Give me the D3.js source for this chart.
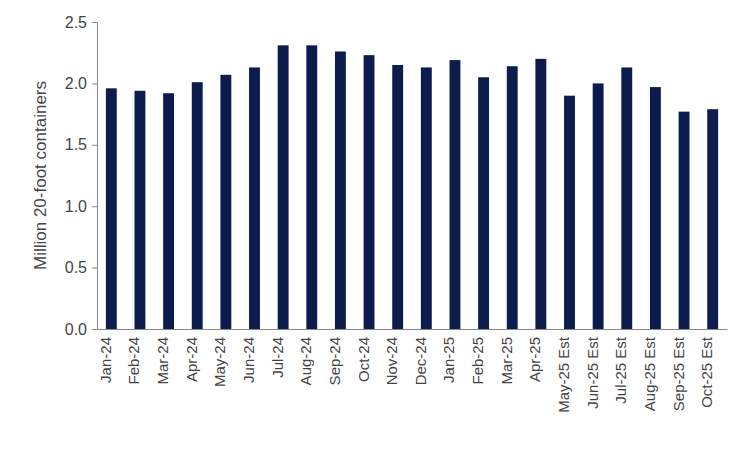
<!DOCTYPE html>
<html><head><meta charset="utf-8">
<script src="https://cdn.jsdelivr.net/npm/d3@7"></script>
<style>body{margin:0;background:#fff}text{font-family:"Liberation Sans",Arial,sans-serif}</style>
</head><body><svg id="c" width="750" height="450"></svg>
<script>
const categories=["Jan-24","Feb-24","Mar-24","Apr-24","May-24","Jun-24","Jul-24","Aug-24","Sep-24","Oct-24","Nov-24","Dec-24","Jan-25","Feb-25","Mar-25","Apr-25","May-25 Est","Jun-25 Est","Jul-25 Est","Aug-25 Est","Sep-25 Est","Oct-25 Est"];
const values=[1.96,1.94,1.92,2.01,2.07,2.13,2.31,2.31,2.26,2.23,2.15,2.13,2.19,2.05,2.14,2.20,1.90,2.00,2.13,1.97,1.77,1.79];
const yTicks=[0,0.5,1.0,1.5,2.0,2.5];
const svg=d3.select("#c");
const m={l:97,r:23,t:22,b:121};
const W=750-m.l-m.r,H=450-m.t-m.b;
const g=svg.append("g").attr("transform",`translate(${m.l},${m.t})`);
const x=d3.scaleBand().domain(categories).range([0,W]).paddingInner(0.62).paddingOuter(0.31);
const y=d3.scaleLinear().domain([0,2.5]).range([H,0]);
g.selectAll("rect").data(values).join("rect")
 .attr("x",(d,i)=>x(categories[i])).attr("width",x.bandwidth())
 .attr("y",d=>y(d)).attr("height",d=>H-y(d)).attr("fill","#0c1d4d");
const ya=g.append("g").call(d3.axisLeft(y).tickValues(yTicks).tickFormat(d3.format(".1f")).tickSize(5).tickSizeOuter(0));
ya.selectAll("text").attr("font-size",16).attr("fill","#444").attr("dx",-2);
ya.select(".domain").attr("stroke","#888");ya.selectAll("line").attr("stroke","#888");
const xa=g.append("g").attr("transform",`translate(0,${H})`).call(d3.axisBottom(x).tickSize(0));
xa.select(".domain").attr("stroke","#888");
xa.selectAll("text").attr("font-size",15).attr("fill","#444")
 .attr("transform","rotate(-90)").attr("text-anchor","end").attr("dx","-8").attr("dy","-0.3em").attr("x",0).attr("y",0).style("dominant-baseline","middle");
svg.append("text").attr("transform",`translate(46,${m.t+H/2}) rotate(-90)`).attr("text-anchor","middle")
 .attr("font-size",17).attr("fill","#444").text("Million 20-foot containers");
</script></body></html>
